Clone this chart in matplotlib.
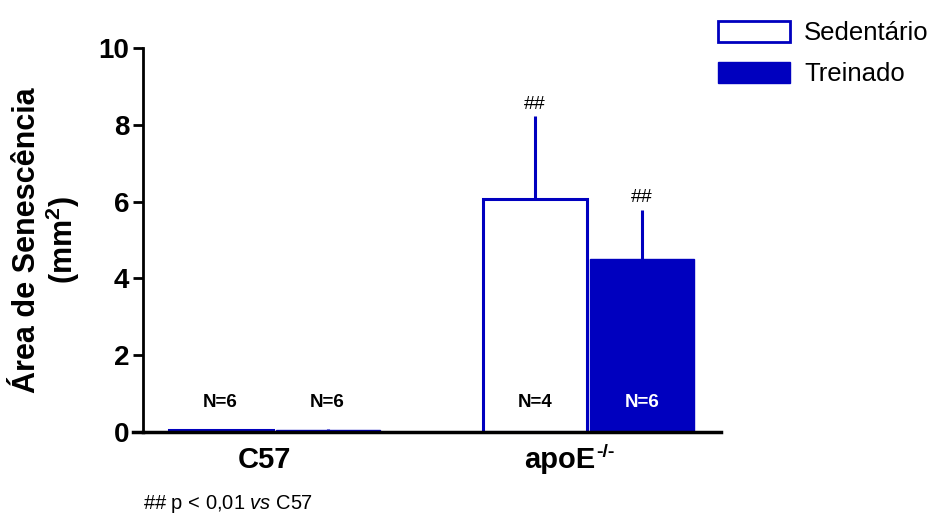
import matplotlib.pyplot as plt
import numpy as np
from matplotlib.patches import Patch

plt.rcParams['font.family'] = ['Liberation Sans', 'DejaVu Sans']
plt.rcParams['mathtext.fontset'] = 'custom'
plt.rcParams['mathtext.rm'] = 'Liberation Sans'
plt.rcParams['mathtext.it'] = 'Liberation Sans:italic'
plt.rcParams['mathtext.bf'] = 'Liberation Sans:bold'

# dados
grupos = ['C57', 'apoE']
series = ['Sedentário', 'Treinado']
media_sed = [0.05, 6.07]
erro_sed = [0.03, 2.15]
media_trein = [0.05, 4.50]
erro_trein = [0.03, 1.28]
n_sed = ['N=6', 'N=4']
n_trein = ['N=6', 'N=6']

azul = '#0000BF'

fig = plt.figure(figsize=(9.36, 5.18), dpi=100)
ax = fig.add_axes([0.1528, 0.166, 0.6175, 0.741])

centros = np.array([131.0, 445.5])
largura = 104
pos_sed = centros - 53.5
pos_trein = centros + 53.5

ax.bar(pos_sed, media_sed, largura, color='white', edgecolor=azul, linewidth=2.2, zorder=2)
ax.bar(pos_trein, media_trein, largura, color=azul, edgecolor=azul, linewidth=1, zorder=2)

# barras de erro (somente para cima)
ax.errorbar(pos_sed, media_sed, yerr=[np.zeros(2), erro_sed], fmt='none',
            ecolor=azul, elinewidth=2.2, capsize=0, zorder=1)
ax.errorbar(pos_trein, media_trein, yerr=[np.zeros(2), erro_trein], fmt='none',
            ecolor=azul, elinewidth=2.2, capsize=0, zorder=1)

# N de cada grupo
for i in range(2):
    ax.text(pos_sed[i], 0.78, n_sed[i], ha='center', va='center', fontsize=13.5,
            fontweight='bold', color='black', zorder=3)
    ax.text(pos_trein[i], 0.78, n_trein[i], ha='center', va='center', fontsize=13.5,
            fontweight='bold', color='white' if i == 1 else 'black', zorder=3)

# significância
ax.text(pos_sed[1], media_sed[1] + erro_sed[1] + 0.1, '##', ha='center', va='bottom', fontsize=14)
ax.text(pos_trein[1], media_trein[1] + erro_trein[1] + 0.1, '##', ha='center', va='bottom', fontsize=14)

ax.set_xlim(0, 578)
ax.set_ylim(0, 10)
ax.set_yticks([0, 2, 4, 6, 8, 10])
ax.set_xticks([121, 417])
ax.set_xticklabels(grupos, fontsize=21, fontweight='bold')
ax.tick_params(axis='x', length=0, pad=10)
ax.tick_params(axis='y', length=7, width=2, labelsize=20, pad=3)
for lbl in ax.get_yticklabels():
    lbl.set_fontweight('bold')

for s in ['top', 'right']:
    ax.spines[s].set_visible(False)
ax.spines['left'].set_linewidth(2)
ax.spines['bottom'].set_linewidth(2.5)
ax.spines['bottom'].set_zorder(4)
ax.plot([-0.018, 0], [0, 0], transform=ax.transAxes, clip_on=False, color='black', lw=2.5)

ax.set_ylabel('Área de Senescência\n' + r'(mm$^{\mathbf{2}}$)', fontsize=22,
              fontweight='bold', labelpad=12, linespacing=1.05)

handles = [Patch(facecolor='white', edgecolor=azul, linewidth=2, label=series[0]),
           Patch(facecolor=azul, edgecolor=azul, label=series[1])]
fig.legend(handles=handles, loc='upper left', bbox_to_anchor=(0.767, 0.96), frameon=False,
           fontsize=18.5, handlelength=2.8, handleheight=0.9, handletextpad=0.55,
           labelspacing=0.64, borderaxespad=0, borderpad=0)

fig.text(0.1528, 0.006, r'## p < 0,01 $\it{vs}$ C57', fontsize=14.5, ha='left', va='bottom')

# expoente -/- do apoE, colocado depois de medir o rótulo
fig.canvas.draw()
bb = ax.get_xticklabels()[1].get_window_extent().transformed(fig.transFigure.inverted())
fig.text(bb.x1 + 0.001, bb.y1 + 0.004, '-/-', fontsize=14, fontweight='bold',
         ha='left', va='top')

plt.savefig('out.png', dpi=100)
plt.close()
